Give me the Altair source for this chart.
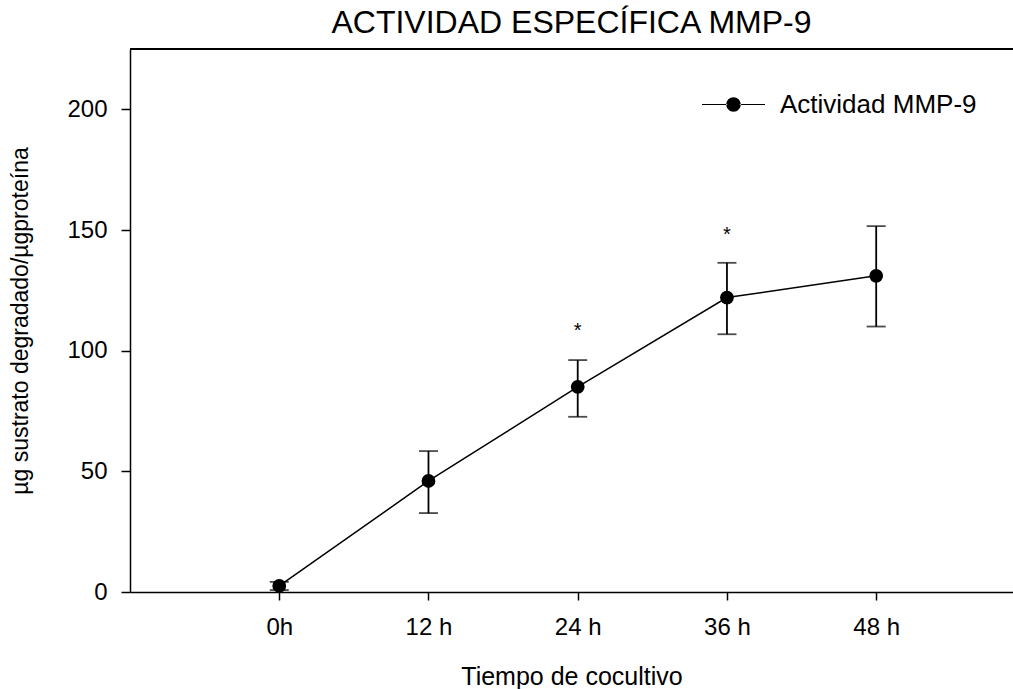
import altair as alt
import pandas as pd

# Specific MMP-9 activity over co-culture time (mean with error range)
hours = [0, 12, 24, 36, 48]
activity = [2.5, 46, 85, 122, 131]
err_low = [0.8, 32.7, 72.6, 106.8, 110]
err_high = [4.2, 58.4, 96.1, 136.4, 151.6]

# significance marks
star_hours = [24, 36]
star_values = [108, 148]

series_name = "Actividad MMP-9"

df = pd.DataFrame({
    "hora": hours,
    "actividad": activity,
    "bajo": err_low,
    "alto": err_high,
    "serie": [series_name] * len(hours),
})
stars = pd.DataFrame({"hora": star_hours, "valor": star_values, "marca": ["*"] * len(star_hours)})

FONT = "Liberation Sans"
PLOT_W = 883
PLOT_H = 543

x_scale = alt.Scale(domain=[-12, 59], nice=False, zero=False)
y_scale = alt.Scale(domain=[0, 225], nice=False)

x_axis = alt.Axis(
    values=hours,
    labelExpr="datum.value == 0 ? '0h' : datum.value + ' h'",
    title="Tiempo de cocultivo",
    tickSize=8,
    labelPadding=15,
    titlePadding=25,
)
y_axis = alt.Axis(
    values=[0, 50, 100, 150, 200],
    title="µg sustrato degradado/µgproteína",
    tickSize=9,
    labelPadding=14,
    titlePadding=34,
)

x = alt.X("hora:Q", scale=x_scale, axis=x_axis)
y = alt.Y("actividad:Q", scale=y_scale, axis=y_axis)

# top frame line
frame_top = alt.Chart(df).mark_rule(color="black", strokeWidth=1.5).encode(
    x=alt.value(0), x2=alt.value(PLOT_W), y=alt.value(0)
)

line = alt.Chart(df).mark_line(color="black", strokeWidth=1.5).encode(x=x, y=y)

bars = alt.Chart(df).mark_rule(color="black", strokeWidth=1.8).encode(
    x=x, y=alt.Y("bajo:Q", scale=y_scale), y2="alto:Q"
)
cap_low = alt.Chart(df).mark_tick(color="black", orient="horizontal", size=19, thickness=1.8).encode(
    x=x, y=alt.Y("bajo:Q", scale=y_scale)
)
cap_high = alt.Chart(df).mark_tick(color="black", orient="horizontal", size=19, thickness=1.8).encode(
    x=x, y=alt.Y("alto:Q", scale=y_scale)
)

# legend symbol: a short line with a dot in the middle
legend_path = (
    "M-1,-0.018L-0.2,-0.018L-0.2,0.018L-1,0.018Z"
    "M0.2,-0.018L1,-0.018L1,0.018L0.2,0.018Z"
    "M-0.23,0A0.23,0.23,0,1,0,0.23,0A0.23,0.23,0,1,0,-0.23,0Z"
)

points = alt.Chart(df).mark_point(filled=True, size=190, opacity=1).encode(
    x=x,
    y=y,
    color=alt.Color(
        "serie:N",
        scale=alt.Scale(range=["black"]),
        legend=alt.Legend(
            title=None,
            orient="none",
            legendX=572,
            legendY=24,
            padding=0,
            symbolType=legend_path,
            symbolSize=3969,
            symbolFillColor="black",
            symbolStrokeWidth=0,
            symbolOpacity=1,
            labelFont=FONT,
            labelFontSize=26,
            labelColor="black",
            labelOffset=15,
            labelLimit=400,
        ),
    ),
)

star_text = alt.Chart(stars).mark_text(font=FONT, fontSize=20, color="black", baseline="middle").encode(
    x=alt.X("hora:Q", scale=x_scale),
    y=alt.Y("valor:Q", scale=y_scale),
    text="marca:N",
)

chart = (
    alt.layer(frame_top, bars, cap_low, cap_high, line, points, star_text)
    .properties(
        width=PLOT_W,
        height=PLOT_H,
        padding={"left": 130, "top": 49, "right": 0, "bottom": 97},
        autosize=alt.AutoSizeParams(type="none"),
        title=alt.TitleParams(
            "ACTIVIDAD ESPECÍFICA MMP-9",
            font=FONT,
            fontSize=32,
            fontWeight="normal",
            color="black",
            anchor="middle",
            offset=8,
        ),
    )
    .configure_view(stroke=None)
    .configure_axis(
        grid=False,
        domainColor="black",
        domainWidth=1.5,
        tickColor="black",
        tickWidth=1.5,
        labelFont=FONT,
        labelFontSize=24,
        labelColor="black",
        titleFont=FONT,
        titleFontSize=25,
        titleFontWeight="normal",
        titleColor="black",
    )
    .configure_axisY(titleFontSize=23)
)

chart.save("out.html", embed_options={"renderer": "svg", "actions": False})
